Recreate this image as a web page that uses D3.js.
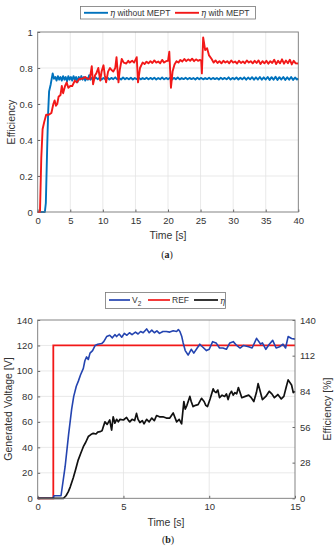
<!DOCTYPE html>
<html>
<head>
<meta charset="utf-8">
<script src="https://cdn.jsdelivr.net/npm/d3@7"></script>
<style>
  body { margin: 0; background: #fff; }
  svg text { font-family: "Liberation Sans", Arial, sans-serif; fill: #333; }
</style>
</head>
<body>
<div id="chart"></div>
<script>
// ---- data (a) ----
var xTicksA = [0, 5, 10, 15, 20, 25, 30, 35, 40];
var yTicksA = [0, 0.2, 0.4, 0.6, 0.8, 1];
var etaWithout = [[0,0],[1.1,0],[1.25,0.05],[1.45,0.35],[1.6,0.55],[1.75,0.67],[2.0,0.71],[2.3,0.77],[2.5,0.74],[2.7,0.75],[2.9,0.73],[3.1,0.755],[3.3,0.735],[3.5,0.75],[3.7,0.73],[3.9,0.755],[4.1,0.735],[4.3,0.75],[4.5,0.725],[4.7,0.755],[4.9,0.735],[5.1,0.75],[5.3,0.73],[5.5,0.755],[5.7,0.735],[5.9,0.75],[6.1,0.72],[6.3,0.75],[6.5,0.735],[6.7,0.755],[6.9,0.735],[7.1,0.75],[7.3,0.73],[7.5,0.745],[7.7,0.735],[7.9,0.76],[8.1,0.735],[8.3,0.745],[8.6,0.735],[8.9,0.748],[9.2,0.738],[9.5,0.746],[9.8,0.736],[10.1,0.745],[10.4,0.737],[10.7,0.747],[11.0,0.736],[11.3,0.745],[11.6,0.738],[11.9,0.748],[12.2,0.737],[12.5,0.744],[12.8,0.736],[13.1,0.747],[13.4,0.738],[13.7,0.745],[14.0,0.737],[14.3,0.746],[14.6,0.736],[14.9,0.744],[15.2,0.738],[15.5,0.747],[15.8,0.737],[16.1,0.744],[16.4,0.738],[16.7,0.746],[17.0,0.737],[17.3,0.745],[17.6,0.738],[17.9,0.746],[18.2,0.736],[18.5,0.744],[18.8,0.738],[19.1,0.747],[19.4,0.737],[19.7,0.745],[20.0,0.738],[20.3,0.746],[20.6,0.736],[20.9,0.745],[21.2,0.738],[21.5,0.747],[21.8,0.737],[22.1,0.744],[22.4,0.738],[22.7,0.746],[23.0,0.737],[23.3,0.745],[23.6,0.738],[23.9,0.744],[24.2,0.736],[24.5,0.746],[24.8,0.738],[25.1,0.745],[25.4,0.737],[25.7,0.744],[26.0,0.738],[26.3,0.746],[26.6,0.737],[26.9,0.745],[27.2,0.738],[27.5,0.744],[27.8,0.736],[28.1,0.746],[28.4,0.738],[28.7,0.745],[29.0,0.737],[29.3,0.748],[29.6,0.736],[29.9,0.745],[30.2,0.738],[30.5,0.747],[30.8,0.736],[31.1,0.746],[31.4,0.737],[31.7,0.748],[32.0,0.735],[32.3,0.747],[32.6,0.737],[32.9,0.749],[33.2,0.735],[33.5,0.748],[33.8,0.736],[34.1,0.75],[34.4,0.735],[34.7,0.748],[35.0,0.736],[35.3,0.75],[35.6,0.734],[35.9,0.749],[36.2,0.735],[36.5,0.751],[36.8,0.734],[37.1,0.749],[37.4,0.736],[37.7,0.75],[38.0,0.734],[38.3,0.748],[38.6,0.735],[38.9,0.75],[39.2,0.734],[39.5,0.747],[39.8,0.736],[40,0.742]];
var etaWith = [[0,0],[0.35,0],[0.55,0.3],[0.75,0.46],[1.0,0.5],[1.3,0.54],[1.7,0.54],[2.1,0.55],[2.4,0.6],[2.6,0.62],[2.8,0.59],[3.0,0.6],[3.2,0.64],[3.5,0.65],[3.7,0.7],[3.9,0.66],[4.2,0.7],[4.45,0.72],[4.7,0.69],[5.0,0.7],[5.3,0.7],[5.7,0.73],[6.0,0.72],[6.4,0.74],[6.8,0.74],[7.3,0.75],[7.6,0.74],[8.0,0.74],[8.3,0.81],[8.5,0.71],[8.8,0.76],[9.0,0.77],[9.3,0.8],[9.6,0.73],[9.8,0.78],[10.1,0.815],[10.3,0.76],[10.5,0.72],[10.8,0.78],[11.1,0.8],[11.3,0.79],[11.6,0.78],[11.9,0.8],[12.1,0.86],[12.4,0.72],[12.6,0.79],[12.9,0.85],[13.2,0.83],[13.6,0.825],[13.9,0.84],[14.1,0.83],[14.5,0.84],[14.8,0.83],[15.2,0.86],[15.4,0.72],[15.7,0.8],[16.1,0.83],[16.4,0.822],[16.7,0.835],[17.0,0.826],[17.3,0.838],[17.6,0.828],[17.9,0.842],[18.2,0.83],[18.5,0.836],[18.8,0.826],[19.1,0.845],[19.4,0.83],[19.7,0.838],[20.0,0.84],[20.2,0.89],[20.45,0.69],[20.7,0.78],[21.0,0.82],[21.3,0.838],[21.6,0.83],[21.9,0.845],[22.2,0.836],[22.5,0.85],[22.8,0.838],[23.1,0.848],[23.4,0.84],[23.7,0.852],[24.0,0.838],[24.3,0.848],[24.6,0.84],[24.9,0.845],[25.1,0.84],[25.2,0.77],[25.4,0.97],[25.7,0.9],[26.0,0.91],[26.3,0.87],[26.7,0.85],[27.0,0.83],[27.3,0.842],[27.6,0.828],[27.9,0.838],[28.2,0.826],[28.5,0.84],[28.8,0.83],[29.1,0.838],[29.4,0.826],[29.7,0.842],[30.0,0.83],[30.3,0.836],[30.6,0.825],[30.9,0.84],[31.2,0.828],[31.5,0.836],[31.8,0.826],[32.1,0.842],[32.4,0.83],[32.7,0.838],[33.0,0.826],[33.3,0.84],[33.6,0.828],[33.9,0.842],[34.2,0.822],[34.5,0.838],[34.8,0.826],[35.1,0.84],[35.4,0.824],[35.7,0.838],[36.0,0.828],[36.3,0.846],[36.6,0.822],[36.9,0.84],[37.2,0.826],[37.5,0.848],[37.8,0.824],[38.1,0.842],[38.4,0.826],[38.7,0.846],[39.0,0.82],[39.3,0.84],[39.6,0.826],[40,0.825]];

// ---- data (b) ----
var xTicksB = [0, 5, 10, 15];
var yTicksBL = [0, 20, 40, 60, 80, 100, 120, 140];
var yTicksBR = [0, 28, 56, 84, 112, 140];
var v2 = [[0,0],[0.9,0],[0.95,2],[1.36,2],[1.6,25],[1.8,50],[1.98,70],[2.1,80],[2.25,88],[2.37,92],[2.5,97],[2.66,102],[2.75,108],[2.85,111],[2.95,109],[3.05,114],[3.2,116],[3.35,120],[3.5,121],[3.73,121.5],[3.85,123],[4.02,127],[4.2,128],[4.35,126],[4.5,128.5],[4.6,127],[4.75,129],[4.9,126.5],[5.05,129.5],[5.2,128],[5.35,130],[5.5,128.5],[5.7,130.5],[5.85,129],[6.0,131],[6.15,130],[6.35,133],[6.5,130],[6.65,132],[6.8,130],[6.95,131.5],[7.1,129.5],[7.3,131],[7.5,131],[7.7,130.5],[7.9,131.5],[8.1,131],[8.2,132.5],[8.29,131],[8.4,127],[8.48,122],[8.6,116],[8.77,112.5],[8.95,117],[9.1,114],[9.3,118],[9.45,121],[9.6,119],[9.84,116],[10.0,117],[10.2,123],[10.4,122],[10.6,118],[10.8,118],[11.0,117],[11.2,122],[11.4,123],[11.6,120],[11.8,118],[12.0,120],[12.3,119],[12.5,118],[12.76,125.6],[13.0,121],[13.1,122],[13.3,117],[13.5,121],[13.7,124],[13.9,118],[14.1,119],[14.3,121],[14.45,118],[14.6,127],[14.8,125.5],[15,125]];
var ref = [[0,0],[0.91,0],[0.91,120],[15,120]];
var eta = [[0,0],[1.5,0],[1.65,2],[1.78,5],[1.9,9],[2.07,16],[2.2,22],[2.36,30],[2.5,35],[2.66,40.5],[2.8,44],[2.95,48.5],[3.1,50],[3.24,51],[3.4,50.5],[3.5,52],[3.63,52.3],[3.75,53],[3.82,56],[3.92,60],[4.05,58],[4.2,61.5],[4.31,53.6],[4.4,64],[4.5,59],[4.6,62],[4.7,60],[4.8,62],[5.0,61.5],[5.18,63.5],[5.3,61],[5.37,60],[5.5,62],[5.65,61],[5.76,66.7],[5.85,62],[5.96,59.5],[6.1,61],[6.2,58.5],[6.35,62],[6.5,60],[6.65,63],[6.8,61],[6.93,65],[7.1,64],[7.3,64],[7.5,63],[7.7,63],[7.9,67],[8.1,60],[8.25,62],[8.39,58.5],[8.52,76],[8.6,70],[8.7,73],[8.87,80],[8.95,76],[9.06,72],[9.2,73],[9.35,73.5],[9.55,78.5],[9.7,76],[9.8,73],[9.9,72],[10.05,78],[10.23,86],[10.3,84],[10.4,83],[10.5,85],[10.6,79],[10.75,81],[10.9,80],[11.0,82],[11.1,77.5],[11.2,82],[11.3,84],[11.4,81],[11.5,83],[11.6,82],[11.7,87],[11.9,79],[12.1,80],[12.3,81],[12.45,79],[12.6,76],[12.75,83],[12.85,90],[12.95,85],[13.1,77.5],[13.3,80],[13.5,84],[13.65,82],[13.8,79],[14.0,81.5],[14.2,78],[14.35,80],[14.5,88],[14.6,93],[14.8,89],[14.9,83],[15,84]];

var svg = d3.select("#chart").append("svg")
    .attr("width", 334)
    .attr("height", 550);

// 画一个坐标区（网格、边框、刻度）
function drawFrame(g, x, y, xt, yt, fmtY) {
    var x0 = x.range()[0], x1 = x.range()[1];
    var y0 = y.range()[0], y1 = y.range()[1];
    g.append("g").selectAll("line").data(xt.slice(1, -1)).enter().append("line")
        .attr("x1", function (d) { return x(d); }).attr("x2", function (d) { return x(d); })
        .attr("y1", y0).attr("y2", y1)
        .attr("stroke", "#e3e3e3").attr("stroke-width", 0.8);
    g.append("g").selectAll("line").data(yt.slice(1, -1)).enter().append("line")
        .attr("y1", function (d) { return y(d); }).attr("y2", function (d) { return y(d); })
        .attr("x1", x0).attr("x2", x1)
        .attr("stroke", "#e3e3e3").attr("stroke-width", 0.8);

    g.append("g").attr("transform", "translate(0," + y0 + ")")
        .call(d3.axisBottom(x).tickValues(xt).tickSize(-2.5).tickPadding(5).tickFormat(d3.format("d")))
        .call(styleAxis);
    g.append("g").attr("transform", "translate(" + x0 + ",0)")
        .call(d3.axisLeft(y).tickValues(yt).tickSize(-2.5).tickPadding(5).tickFormat(fmtY))
        .call(styleAxis);
}

function styleAxis(a) {
    a.select(".domain").remove();
    a.selectAll("line").attr("stroke", "#666");
    a.selectAll("text").attr("font-size", "9.5px").attr("fill", "#333")
        .attr("font-family", "Liberation Sans, Arial, sans-serif");
}

function box(g, x, y) {
    g.append("rect")
        .attr("x", x.range()[0]).attr("y", y.range()[1])
        .attr("width", x.range()[1] - x.range()[0])
        .attr("height", y.range()[0] - y.range()[1])
        .attr("fill", "none").attr("stroke", "#777").attr("stroke-width", 0.9);
}

/* ---------- (a) ---------- */
var xa = d3.scaleLinear().domain([0, 40]).range([37.7, 298.3]);
var ya = d3.scaleLinear().domain([0, 1]).range([212, 32]);
var ga = svg.append("g");
drawFrame(ga, xa, ya, xTicksA, yTicksA, function (d) { return d3.format("")(d); });

var lineA = d3.line().x(function (d) { return xa(d[0]); }).y(function (d) { return ya(d[1]); });
ga.append("path").datum(etaWithout).attr("d", lineA)
    .attr("fill", "none").attr("stroke", "#0072BD").attr("stroke-width", 1.9).attr("stroke-linejoin", "round");
ga.append("path").datum(etaWith).attr("d", lineA)
    .attr("fill", "none").attr("stroke", "#F21818").attr("stroke-width", 1.9).attr("stroke-linejoin", "round");
box(ga, xa, ya);

ga.append("text").attr("x", 168).attr("y", 239).attr("text-anchor", "middle")
    .attr("font-size", "10.5px").text("Time [s]");
ga.append("text").attr("transform", "translate(15,122)rotate(-90)").attr("text-anchor", "middle")
    .attr("font-size", "10.5px").text("Efficiency");
ga.append("text").attr("x", 167).attr("y", 258).attr("text-anchor", "middle")
    .style("font-family", "Liberation Serif, serif").attr("font-size", "10px").style("fill", "#222")
    .html("(<tspan font-weight='bold'>a</tspan>)");

// 图例 (a)
var la = ga.append("g");
la.append("rect").attr("x", 80.5).attr("y", 6.5).attr("width", 175).attr("height", 12.5)
    .attr("fill", "#fff").attr("stroke", "#777").attr("stroke-width", 0.8);
[[84, 108, 110, "#0072BD", "without MEPT"], [175, 199, 201, "#F21818", "with MEPT"]].forEach(function (e) {
    la.append("line").attr("x1", e[0]).attr("x2", e[1]).attr("y1", 12.8).attr("y2", 12.8)
        .attr("stroke", e[3]).attr("stroke-width", 1.9);
    var t = la.append("text").attr("x", e[2]).attr("y", 15.8).attr("font-size", "8.5px");
    t.append("tspan").style("font-family", "DejaVu Serif, serif").style("font-style", "italic").text("η");
    t.append("tspan").text(" " + e[4]);
});

/* ---------- (b) ---------- */
var xb = d3.scaleLinear().domain([0, 15]).range([37.7, 295]);
var yb = d3.scaleLinear().domain([0, 140]).range([498.3, 320]);
var ybr = d3.scaleLinear().domain([0, 140]).range([498.3, 320]);
var gb = svg.append("g");
drawFrame(gb, xb, yb, xTicksB, yTicksBL, d3.format("d"));
gb.append("g").attr("transform", "translate(295,0)")
    .call(d3.axisRight(ybr).tickValues(yTicksBR).tickSize(-2.5).tickPadding(5).tickFormat(d3.format("d")))
    .call(styleAxis);

var lineB = d3.line().x(function (d) { return xb(d[0]); }).y(function (d) { return yb(d[1]); });
var lineBR = d3.line().x(function (d) { return xb(d[0]); }).y(function (d) { return ybr(d[1]); });
gb.append("path").datum(ref).attr("d", lineB)
    .attr("fill", "none").attr("stroke", "#F21818").attr("stroke-width", 1.8);
gb.append("path").datum(v2).attr("d", lineB)
    .attr("fill", "none").attr("stroke", "#2444B0").attr("stroke-width", 1.6).attr("stroke-linejoin", "round");
gb.append("path").datum(eta).attr("d", lineBR)
    .attr("fill", "none").attr("stroke", "#111").attr("stroke-width", 1.7).attr("stroke-linejoin", "round");
box(gb, xb, yb);

gb.append("text").attr("x", 166).attr("y", 526).attr("text-anchor", "middle")
    .attr("font-size", "10.5px").text("Time [s]");
gb.append("text").attr("transform", "translate(12,409)rotate(-90)").attr("text-anchor", "middle")
    .attr("font-size", "10.5px").text("Generated Voltage [V]");
gb.append("text").attr("transform", "translate(331,409)rotate(-90)").attr("text-anchor", "middle")
    .attr("font-size", "10.5px").text("Efficiency [%]");
gb.append("text").attr("x", 168).attr("y", 543).attr("text-anchor", "middle")
    .style("font-family", "Liberation Serif, serif").attr("font-size", "10px").style("fill", "#222")
    .html("(<tspan font-weight='bold'>b</tspan>)");

// 图例 (b)
var lb = gb.append("g");
lb.append("rect").attr("x", 105.5).attr("y", 292.5).attr("width", 120).attr("height", 16)
    .attr("fill", "#fff").attr("stroke", "#777").attr("stroke-width", 0.8);
[[109, 130, "#2444B0"], [148, 170, "#F21818"], [194, 218, "#111"]].forEach(function (e) {
    lb.append("line").attr("x1", e[0]).attr("x2", e[1]).attr("y1", 300).attr("y2", 300)
        .attr("stroke", e[2]).attr("stroke-width", 1.7);
});
var tv = lb.append("text").attr("x", 132).attr("y", 302.5).attr("font-size", "8.5px");
tv.append("tspan").text("V");
tv.append("tspan").attr("font-size", "6.5px").attr("dy", 3).text("2");
lb.append("text").attr("x", 172).attr("y", 302.5).attr("font-size", "8.5px").text("REF");
lb.append("text").attr("x", 220).attr("y", 304).attr("font-size", "8.5px")
    .style("font-family", "DejaVu Serif, serif").style("font-style", "italic").text("η");
</script>
</body>
</html>
